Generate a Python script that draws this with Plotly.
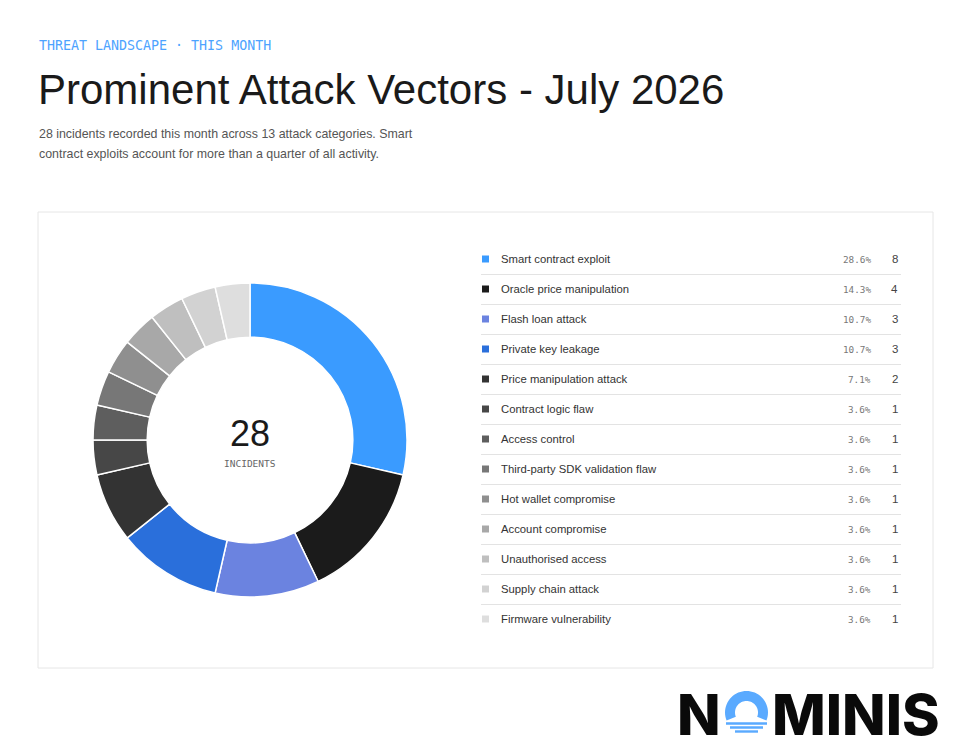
import math
import plotly.graph_objects as go

# attack categories for the month, in chart order
categories = [
    "Smart contract exploit",
    "Oracle price manipulation",
    "Flash loan attack",
    "Private key leakage",
    "Price manipulation attack",
    "Contract logic flaw",
    "Access control",
    "Third-party SDK validation flaw",
    "Hot wallet compromise",
    "Account compromise",
    "Unauthorised access",
    "Supply chain attack",
    "Firmware vulnerability",
]
incidents = [8, 4, 3, 3, 2, 1, 1, 1, 1, 1, 1, 1, 1]
colors = [
    "#3a9bff", "#1b1b1b", "#6b83e0", "#2a6fdb", "#333333", "#474747",
    "#5e5e5e", "#777777", "#8f8f8f", "#a8a8a8", "#bfbfbf", "#d2d2d2", "#dedede",
]

W, H = 965, 754
OFF = 8  # page body margin
total = sum(incidents)
shares = ["%.1f%%" % (100 * v / total) for v in incidents]


def px_x(x):
    return (x - OFF) / W


def px_y(y):
    return (H - (y - OFF)) / H


fig = go.Figure()

# donut
cx, cy, r = 250, 440, 157
fig.add_trace(go.Pie(
    labels=categories,
    values=incidents,
    sort=False,
    direction="clockwise",
    rotation=0,
    hole=0.655,
    marker=dict(colors=colors, line=dict(color="#ffffff", width=1.5)),
    textinfo="none",
    hoverinfo="label+value",
    showlegend=False,
    domain=dict(x=[px_x(cx - r), px_x(cx + r)], y=[px_y(cy + r), px_y(cy - r)]),
))

# legend table drawn on its own axis (x in px, y in rows)
rows = list(range(len(categories)))
fig.add_trace(go.Scatter(
    x=[4.5] * len(categories),
    y=rows,
    mode="markers",
    marker=dict(symbol="square", size=7, color=colors),
    hoverinfo="skip",
    showlegend=False,
    xaxis="x", yaxis="y",
))

annotations = []
for i, (name, pct, n) in enumerate(zip(categories, shares, incidents)):
    annotations.append(dict(x=18, y=i, xref="x", yref="y", text=name,
                            xanchor="left", yanchor="middle", showarrow=False,
                            font=dict(family="Liberation Sans", size=11.3, color="#333333")))
    annotations.append(dict(x=392, y=i, xref="x", yref="y", text=pct,
                            xanchor="right", yanchor="middle", showarrow=False,
                            font=dict(family="DejaVu Sans Mono", size=9.3, color="#777777")))
    annotations.append(dict(x=419, y=i, xref="x", yref="y", text=str(n),
                            xanchor="right", yanchor="middle", showarrow=False,
                            font=dict(family="Liberation Sans", size=11.5, color="#444444")))


def label(x, y, text, font, xanchor="left"):
    return dict(x=px_x(x), y=px_y(y), xref="paper", yref="paper",
                xanchor=xanchor, yanchor="middle", text=text,
                showarrow=False, font=font)


logo_font = dict(family="Inter", size=57, color="#0a0a0a", weight=800)
annotations += [
    label(37, 45, "THREAT LANDSCAPE · THIS MONTH",
          dict(family="DejaVu Sans Mono", size=13.3, color="#4da3ff")),
    label(36, 89, "Prominent Attack Vectors - July 2026",
          dict(family="Liberation Sans", size=42, color="#1a1a1a")),
    label(37, 134, "28 incidents recorded this month across 13 attack categories. Smart",
          dict(family="Liberation Sans", size=12.4, color="#555555")),
    label(37, 154, "contract exploits account for more than a quarter of all activity.",
          dict(family="Liberation Sans", size=12.4, color="#555555")),
    # donut centre
    label(cx, 433, str(total),
          dict(family="Liberation Sans", size=36, color="#1a1a1a"), "center"),
    label(cx, 463, "INCIDENTS",
          dict(family="DejaVu Sans Mono", size=9.5, color="#666666"), "center"),
    # logo letters around the drawn O
    label(723, 714, "N", logo_font, "right"),
    label(770, 714, "MINIS", logo_font, "left"),
]

# logo "O": open blue ring over three water lines
ocx, ocy, ro, ri = 746.5, 712.5, 21.5, 11.5
a0, a1 = math.radians(-22), math.radians(202)
steps = 40
pts = []
for k in range(steps + 1):
    a = a0 + (a1 - a0) * k / steps
    pts.append((ocx + ro * math.cos(a), ocy - ro * math.sin(a)))
for k in range(steps, -1, -1):
    a = a0 + (a1 - a0) * k / steps
    pts.append((ocx + ri * math.cos(a), ocy - ri * math.sin(a)))
ring_path = "M " + " L ".join("%.5f,%.5f" % (px_x(x), px_y(y)) for x, y in pts) + " Z"

logo_blue = "#5aaaff"
shapes = [
    dict(type="rect", xref="paper", yref="paper", layer="below",
         x0=px_x(38), x1=px_x(933), y0=px_y(668), y1=px_y(212),
         line=dict(color="#e6e6e6", width=1), fillcolor="#ffffff"),
    dict(type="path", xref="paper", yref="paper", path=ring_path,
         fillcolor=logo_blue, line=dict(width=0)),
]
for (lx0, lx1, ly) in [(726, 767, 723.5), (730, 763, 727.5), (735, 758, 731.5)]:
    shapes.append(dict(type="rect", xref="paper", yref="paper",
                       x0=px_x(lx0), x1=px_x(lx1), y0=px_y(ly + 1.2), y1=px_y(ly - 1.2),
                       fillcolor=logo_blue, line=dict(width=0)))

fig.update_layout(
    width=W, height=H,
    margin=dict(l=0, r=0, t=0, b=0),
    paper_bgcolor="#ffffff",
    plot_bgcolor="rgba(0,0,0,0)",
    xaxis=dict(domain=[px_x(481), px_x(901)], range=[0, 420],
               visible=False, fixedrange=True),
    yaxis=dict(domain=[px_y(634), px_y(244)], range=[len(categories) - 0.5, -0.5],
               tickvals=[i + 0.5 for i in rows], showticklabels=False,
               showgrid=True, gridcolor="#e3e3e3", gridwidth=1,
               zeroline=False, showline=False, ticks="", fixedrange=True),
    shapes=shapes,
    annotations=annotations,
)

fig.write_html("out.html")
